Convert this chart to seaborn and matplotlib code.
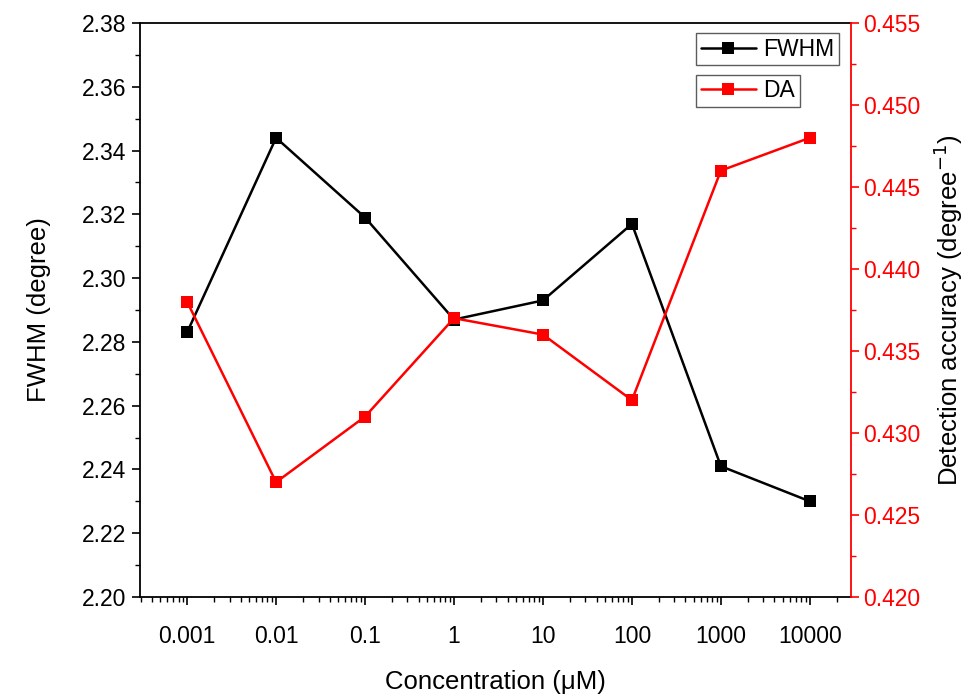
import matplotlib
matplotlib.use("Agg")
import matplotlib.pyplot as plt
import matplotlib.ticker as mticker
from matplotlib.lines import Line2D
import seaborn as sns
import pandas as pd
import numpy as np

sns.set_theme(style="white")
plt.rcParams['font.family'] = ['Liberation Sans', 'DejaVu Sans']
plt.rcParams['text.color'] = 'black'
plt.rcParams['axes.labelcolor'] = 'black'

concentration = [0.001, 0.01, 0.1, 1, 10, 100, 1000, 10000]
x_labels = ["0.001", "0.01", "0.1", "1", "10", "100", "1000", "10000"]
fwhm = [2.283, 2.344, 2.319, 2.287, 2.293, 2.317, 2.241, 2.230]
da = [0.438, 0.427, 0.431, 0.437, 0.436, 0.432, 0.446, 0.448]

df = pd.DataFrame({"conc": concentration, "FWHM": fwhm, "DA": da})

fig = plt.figure(figsize=(9.72, 6.97), dpi=100)
ax = fig.add_axes([0.144, 0.1435, 0.7315, 0.8235])
ax2 = ax.twinx()

sns.lineplot(data=df, x="conc", y="FWHM", ax=ax, color="black", marker="s",
             markersize=8.5, markeredgewidth=0, linewidth=1.8, zorder=3)
sns.lineplot(data=df, x="conc", y="DA", ax=ax2, color="#ff0000", marker="s",
             markersize=8.5, markeredgewidth=0, linewidth=1.8, zorder=3)

ax.set_xscale("log")
ax.set_xlim(2.95e-4, 2.9e4)
ax.set_xticks(concentration)
ax.set_xticklabels(x_labels)
ax.xaxis.set_minor_locator(mticker.LogLocator(base=10, subs=np.arange(2, 10), numticks=20))
ax.xaxis.set_minor_formatter(mticker.NullFormatter())

ax.set_ylim(2.20, 2.38)
ax.set_yticks(np.arange(2.20, 2.381, 0.02))
ax.yaxis.set_major_formatter(mticker.FormatStrFormatter("%.2f"))
ax.yaxis.set_minor_locator(mticker.MultipleLocator(0.01))

ax2.set_ylim(0.420, 0.455)
ax2.set_yticks(np.arange(0.420, 0.4551, 0.005))
ax2.yaxis.set_major_formatter(mticker.FormatStrFormatter("%.3f"))
ax2.yaxis.set_minor_locator(mticker.MultipleLocator(0.0025))

fs = 16.5
ax.tick_params(axis="both", which="major", direction="out", length=6, width=1.2,
               labelsize=fs, colors="black", left=True, bottom=True)
ax.tick_params(axis="both", which="minor", direction="out", length=3.5, width=1.0,
               left=True, bottom=True, colors="black")
ax.tick_params(axis="x", pad=14)
ax.tick_params(axis="y", pad=4)
ax2.tick_params(axis="y", which="major", direction="out", length=6, width=1.2,
                labelsize=fs, colors="#ff0000", right=True, pad=3)
ax2.tick_params(axis="y", which="minor", direction="out", length=3.5, width=1.0,
                colors="#ff0000", right=True)

for s in ["left", "bottom", "top"]:
    ax.spines[s].set_color("black")
    ax.spines[s].set_linewidth(1.3)
for s in ["left", "bottom", "top"]:
    ax2.spines[s].set_visible(False)
ax2.spines["right"].set_color("#ff0000")
ax2.spines["right"].set_linewidth(1.3)
ax.spines["right"].set_visible(False)

lfs = 18.5
ax.set_xlabel("Concentration (\u03bcM)", fontsize=lfs, labelpad=16, color="black")
ax.set_ylabel("FWHM (degree)", fontsize=lfs, labelpad=22, color="black")
ax2.set_ylabel("Detection accuracy (degree$^{-1}$)", fontsize=lfs, labelpad=8, color="black")
ax.grid(False)
ax2.grid(False)

if ax.get_legend():
    ax.get_legend().remove()
if ax2.get_legend():
    ax2.get_legend().remove()

h1 = Line2D([], [], color="black", marker="s", markersize=9, markeredgewidth=0, linewidth=1.8)
h2 = Line2D([], [], color="#ff0000", marker="s", markersize=9, markeredgewidth=0, linewidth=1.8)
leg_kw = dict(fontsize=16.5, frameon=True, fancybox=False, handlelength=2.4,
              handletextpad=0.35, borderpad=0.2, borderaxespad=0, labelcolor="black")
leg1 = ax2.legend([h1], ["FWHM"], loc="upper left", bbox_to_anchor=(0.782, 0.982), **leg_kw)
leg1.get_frame().set_edgecolor("#333333")
leg1.get_frame().set_linewidth(1.0)
ax2.add_artist(leg1)
leg2 = ax2.legend([h2], ["DA"], loc="upper left", bbox_to_anchor=(0.782, 0.910), **leg_kw)
leg2.get_frame().set_edgecolor("#333333")
leg2.get_frame().set_linewidth(1.0)

fig.savefig("out.png", dpi=100)
